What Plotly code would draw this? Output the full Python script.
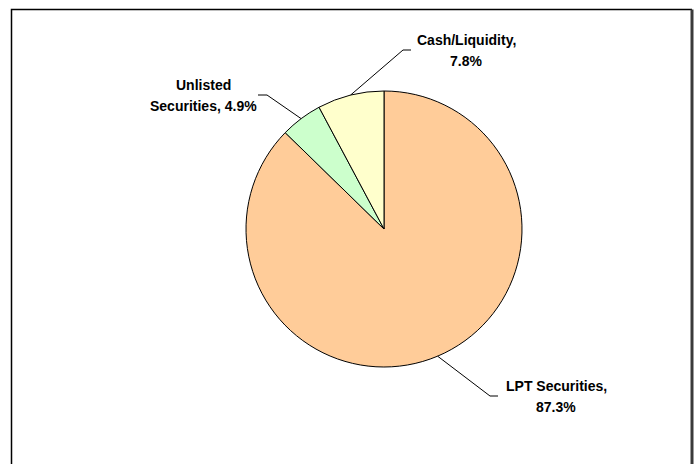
import math
import plotly.graph_objects as go

# Portfolio allocation
categories = ["LPT Securities", "Unlisted Securities", "Cash/Liquidity"]
shares = [87.3, 4.9, 7.8]
colors = ["#FFCC99", "#CCFFCC", "#FFFFCC"]

W, H = 699, 464
CX, CY, R = 384, 229, 138  # pie centre and radius in pixels


def px(x, y):
    """Pixel position -> paper coordinates."""
    return x / W, 1 - y / H


fig = go.Figure(
    go.Pie(
        labels=categories,
        values=shares,
        sort=False,
        direction="clockwise",
        rotation=0,
        marker=dict(colors=colors, line=dict(color="black", width=1)),
        textinfo="none",
        hoverinfo="label+percent",
        showlegend=False,
        domain=dict(x=[(CX - R) / W, (CX + R) / W],
                    y=[1 - (CY + R) / H, 1 - (CY - R) / H]),
    )
)

# Leader-line elbow, tail length and label centre (pixels) for each slice
label_style = {
    "LPT Securities": dict(elbow=(490, 396), tail=8, text=(556, 386)),
    "Unlisted Securities": dict(elbow=(267, 95), tail=-9, text=(203, 85)),
    "Cash/Liquidity": dict(elbow=(403, 50), tail=8, text=(466, 40)),
}
label_lines = {
    "LPT Securities": ["LPT Securities,", "{v}%"],
    "Unlisted Securities": ["Unlisted", "Securities, {v}%"],
    "Cash/Liquidity": ["Cash/Liquidity,", "{v}%"],
}

total = sum(shares)
shapes = []
annotations = []
cum = 0.0
for name, v in zip(categories, shares):
    mid = (cum + v / 2) / total * 2 * math.pi
    cum += v
    ex = CX + R * math.sin(mid)
    ey = CY - R * math.cos(mid)
    st = label_style[name]
    bx, by = st["elbow"]
    p0 = px(ex, ey)
    p1 = px(bx, by)
    p2 = px(bx + st["tail"], by)
    shapes.append(dict(
        type="path", xref="paper", yref="paper",
        path=f"M {p0[0]},{p0[1]} L {p1[0]},{p1[1]} L {p2[0]},{p2[1]}",
        line=dict(color="black", width=1),
    ))
    tx, ty = st["text"]
    for i, ln in enumerate(label_lines[name]):
        ax, ay = px(tx, ty + i * 21)
        annotations.append(dict(
            x=ax, y=ay, xref="paper", yref="paper",
            text=f"<b>{ln.format(v=f'{v:.1f}')}</b>",
            showarrow=False, xanchor="center", yanchor="middle",
            font=dict(family="Liberation Sans, Arial, sans-serif",
                      size=14, color="black"),
        ))

# Chart frame
f0 = px(11.5, H + 5)
f1 = px(11.5, 9.5)
f2 = px(692, 9.5)
f3 = px(692, H + 5)
shapes.append(dict(
    type="path", xref="paper", yref="paper",
    path=f"M {f0[0]},{f0[1]} L {f1[0]},{f1[1]} L {f2[0]},{f2[1]}",
    line=dict(color="black", width=1.5),
))
shapes.append(dict(
    type="line", xref="paper", yref="paper",
    x0=f2[0], y0=f2[1], x1=f3[0], y1=f3[1],
    line=dict(color="#3a3a3a", width=3),
))

fig.update_layout(
    width=W, height=H,
    margin=dict(l=0, r=0, t=0, b=0),
    paper_bgcolor="white",
    plot_bgcolor="white",
    shapes=shapes,
    annotations=annotations,
)

fig.write_html("out.html")
